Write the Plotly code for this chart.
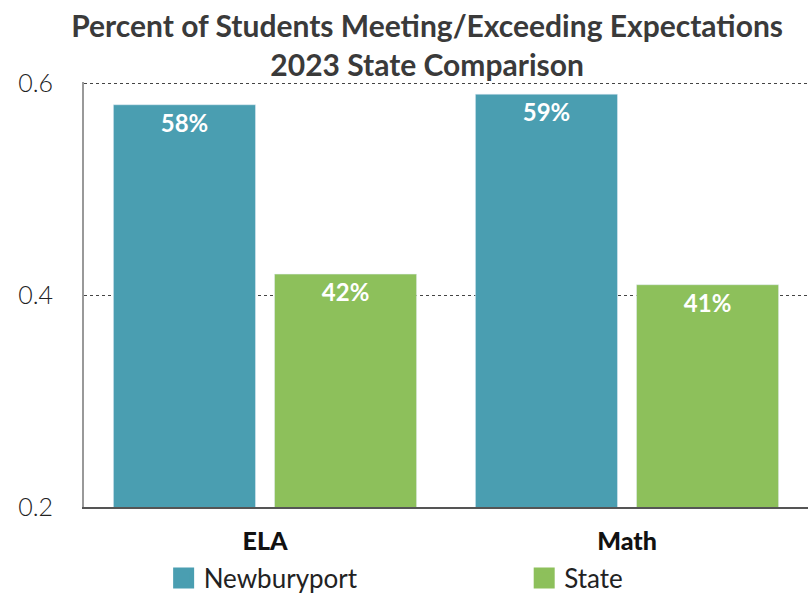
import plotly.graph_objects as go

categories = ["ELA", "Math"]
newburyport = [0.58, 0.59]
state = [0.42, 0.41]
series_names = ["Newburyport", "State"]
tick_vals = [0.2, 0.4, 0.6]
tick_text = ["0.2", "0.4", "0.6"]

teal = "#4A9EB1"
green = "#8DC05B"

def pct(vals):
    return [f"{round(v*100)}%" for v in vals]

label_font = dict(color="white", size=24, family="Lato", weight="bold")

fig = go.Figure()
fig.add_trace(go.Bar(
    x=categories, y=newburyport, name=series_names[0], marker_color=teal,
    text=pct(newburyport), textposition="inside", insidetextanchor="end",
    textfont=label_font, base=0, showlegend=False,
))
fig.add_trace(go.Bar(
    x=categories, y=state, name=series_names[1], marker_color=green,
    text=pct(state), textposition="inside", insidetextanchor="end",
    textfont=label_font, base=0, showlegend=False,
))
# legend-only entries with larger square swatches
for name, col, leg in [(series_names[0], teal, "legend"), (series_names[1], green, "legend2")]:
    fig.add_trace(go.Scatter(
        x=[None], y=[None], mode="markers", name=name, legend=leg,
        marker=dict(symbol="square", size=16, color=col, line=dict(color=col, width=6)),
    ))

legend_common = dict(
    orientation="h", yanchor="middle", y=-0.167, xanchor="left",
    font=dict(size=26, color="#222", family="Lato"), bgcolor="rgba(0,0,0,0)",
    itemsizing="trace",
)

fig.update_layout(
    width=812, height=594,
    margin=dict(l=84, r=4, t=82, b=87, autoexpand=False),
    paper_bgcolor="white", plot_bgcolor="white",
    barmode="group", bargap=0.11, bargroupgap=0.118,
    title=dict(
        text="Percent of Students Meeting/Exceeding Expectations<br>2023 State Comparison",
        x=0.526, xanchor="center", y=0.938, yanchor="top",
        font=dict(family="Lato", size=30, color="#3a3a3a", weight="bold"),
        automargin=False,
    ),
    font=dict(family="Lato", color="#222"),
    showlegend=True,
    legend=dict(x=0.11, **legend_common),
    legend2=dict(x=0.608, **legend_common),
)
fig.update_yaxes(
    range=[0.2, 0.6015], tickvals=tick_vals, ticktext=tick_text,
    showgrid=True, gridcolor="#444", griddash="dot", gridwidth=1,
    showline=True, linecolor="#999", linewidth=2,
    tickfont=dict(size=25, color="#222", family="Lato", weight=300), ticks="", ticklabelstandoff=24,
    zeroline=False,
)
fig.update_xaxes(
    showline=True, linecolor="#555", linewidth=1.5,
    tickfont=dict(size=25, color="#111", family="Lato", weight=900), ticks="",
    ticklabelstandoff=11,
)

fig.write_html("out.html", config={"displayModeBar": False},
               post_script="document.body.style.margin='0';")
